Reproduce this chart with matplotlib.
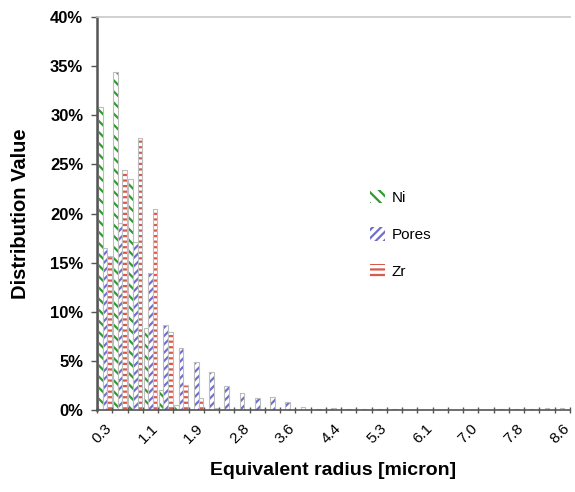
import matplotlib
matplotlib.use("Agg")
import matplotlib.pyplot as plt
import numpy as np
from matplotlib.patches import Patch

plt.rcParams['font.family'] = ['Liberation Sans', 'DejaVu Sans']
plt.rcParams['hatch.linewidth'] = 1.6

categories = ["0.3", "0.6", "0.8", "1.1", "1.4", "1.6", "1.9", "2.2", "2.5", "2.8",
              "3.0", "3.3", "3.6", "3.9", "4.1", "4.4", "4.7", "5.0", "5.3", "5.5",
              "5.8", "6.1", "6.4", "6.7", "7.0", "7.2", "7.5", "7.8", "8.1", "8.4", "8.6"]
shown_labels = ["0.3", "1.1", "1.9", "2.8", "3.6", "4.4", "5.3", "6.1", "7.0", "7.8", "8.6"]

ni = [30.8, 34.4, 23.5, 8.3, 2.0, 0.5, 0.1, 0.0, 0.0, 0.0,
      0.0, 0.0, 0.0, 0.0, 0.0, 0.0, 0.0, 0.0, 0.0, 0.0,
      0.0, 0.0, 0.0, 0.0, 0.0, 0.0, 0.0, 0.0, 0.0, 0.0, 0.0]
pores = [16.5, 19.0, 17.1, 13.9, 8.6, 6.3, 4.9, 3.9, 2.4, 1.7,
         1.2, 1.3, 0.8, 0.3, 0.1, 0.2, 0.05, 0.1, 0.15, 0.05,
         0.0, 0.0, 0.0, 0.0, 0.0, 0.0, 0.15, 0.05, 0.05, 0.25, 0.25]
zr = [15.7, 24.4, 27.7, 20.5, 7.9, 2.5, 1.2, 0.2, 0.0, 0.0,
      0.0, 0.0, 0.0, 0.0, 0.0, 0.0, 0.0, 0.0, 0.0, 0.0,
      0.0, 0.0, 0.0, 0.0, 0.0, 0.0, 0.0, 0.0, 0.0, 0.0, 0.0]

series = [("Ni", ni, "#2f9a2f", "\\\\\\"),
          ("Pores", pores, "#6f6fd0", "////"),
          ("Zr", zr, "#d95a4c", "---")]

fig = plt.figure(figsize=(5.75, 4.92), dpi=100)
ax = fig.add_axes([0.169, 0.1667, 0.822, 0.7987])

x = np.arange(len(categories))
w = 0.3
for i, (name, vals, col, hatch) in enumerate(series):
    pos = x + (i - 1) * w
    ax.bar(pos, vals, width=w, color="white", edgecolor=col, hatch=hatch, linewidth=0)
    ax.bar(pos, vals, width=w, fill=False, edgecolor="#bdbdbd", linewidth=0.8)

ax.set_xlim(-0.5, len(categories) - 0.5)
ax.set_ylim(0, 40)
ax.set_yticks(np.arange(0, 41, 5))
ax.set_yticklabels([f"{v}%" for v in range(0, 41, 5)], fontsize=12, fontweight="bold")

label_pos = [categories.index(l) for l in shown_labels]
ax.set_xticks(label_pos)
ax.set_xticklabels(shown_labels, rotation=45, ha="right", rotation_mode="anchor", fontsize=11)
ax.set_xticks(np.arange(-0.5, len(categories), 1), minor=True)
ax.tick_params(axis="x", which="major", length=0, pad=8)
ax.tick_params(axis="x", which="minor", length=4, width=1, color="#555555", direction="inout")
ax.tick_params(axis="y", length=4, width=1, color="#555555", direction="out", pad=6)

ax.spines["right"].set_visible(False)
ax.spines["top"].set_color("#c8c8c8")
ax.spines["top"].set_linewidth(1.2)
ax.spines["left"].set_color("#555555")
ax.spines["left"].set_linewidth(1.8)
ax.spines["bottom"].set_color("#555555")
ax.spines["bottom"].set_linewidth(1.2)

ax.set_ylabel("Distribution Value", fontsize=14.5, fontweight="bold")
ax.yaxis.set_label_coords(-0.142, 0.5)
ax.set_xlabel("Equivalent radius [micron]", fontsize=14, fontweight="bold")
ax.xaxis.set_label_coords(0.5, -0.132)

handles = [Patch(facecolor="white", edgecolor=col, hatch=h, linewidth=0) for _, _, col, h in series]
leg = ax.legend(handles, [s[0] for s in series], loc="upper left",
                bbox_to_anchor=(356 / 575, 1 - 176 / 492), bbox_transform=fig.transFigure,
                frameon=False, fontsize=11, labelspacing=1.45, handlelength=1.0,
                handleheight=1.0, handletextpad=0.45)

fig.savefig("out.png", dpi=100)
